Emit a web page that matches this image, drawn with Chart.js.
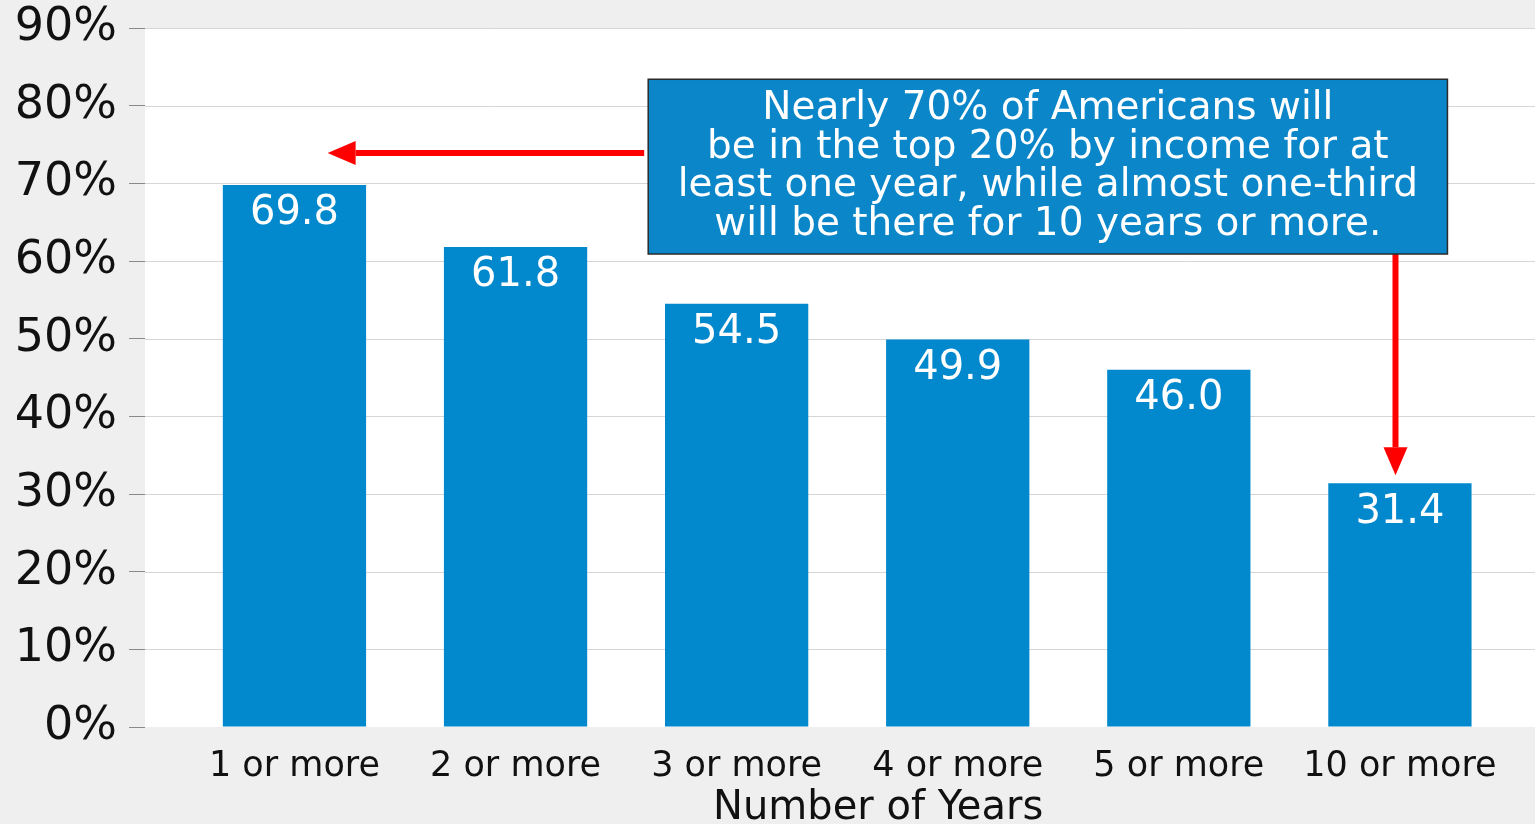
<!DOCTYPE html>
<html>
<head>
<meta charset="utf-8">
<script src="https://cdn.jsdelivr.net/npm/chart.js@4.4.1/dist/chart.umd.min.js"></script>
<style>
  html, body { margin: 0; padding: 0; background: #efefef; }
  #wrap { width: 1535px; height: 824px; position: relative; }
</style>
</head>
<body>
<div id="wrap"><canvas id="incomeChart"></canvas></div>
<script>
// --- Data ---
const yearLabels = ["1 or more", "2 or more", "3 or more", "4 or more", "5 or more", "10 or more"];
const sharePct = [69.8, 61.8, 54.5, 49.9, 46.0, 31.4];
const yTicks = [0, 10, 20, 30, 40, 50, 60, 70, 80, 90];
const xTitle = "Number of Years";
const noteLines = [
    "Nearly 70% of Americans will",
    "be in the top 20% by income for at",
    "least one year, while almost one-third",
    "will be there for 10 years or more."
];

const BLUE = "#0288cc";
const RED = "#ff0000";
const FONT = "'DejaVu Sans', sans-serif";

// --- Plot background + gridlines (plot area is white, page is grey) ---
const backdrop = {
    id: "backdrop",
    beforeDatasetsDraw(chart) {
        const { ctx, chartArea: a, scales: { y } } = chart;
        ctx.save();
        ctx.fillStyle = "#ffffff";
        ctx.fillRect(a.left, a.top, a.right - a.left, a.bottom - a.top);
        ctx.strokeStyle = "#d6d6d6";
        ctx.lineWidth = 1;
        yTicks.forEach(v => {
            if (v === 0) return;
            const py = Math.round(y.getPixelForValue(v)) + 0.5;
            ctx.beginPath();
            ctx.moveTo(a.left, py);
            ctx.lineTo(a.right, py);
            ctx.stroke();
        });
        ctx.restore();
    }
};

// --- Value labels inside bar tops ---
const valueLabels = {
    id: "valueLabels",
    afterDatasetsDraw(chart) {
        const { ctx } = chart;
        const meta = chart.getDatasetMeta(0);
        ctx.save();
        ctx.fillStyle = "#ffffff";
        ctx.font = "40px " + FONT;
        ctx.textAlign = "center";
        ctx.textBaseline = "middle";
        meta.data.forEach((bar, i) => {
            ctx.fillText(sharePct[i].toFixed(1), bar.x, bar.y + 29);
        });
        ctx.restore();
    }
};

// --- Callout box and red arrows ---
function arrow(ctx, x1, y1, x2, y2) {
    const ang = Math.atan2(y2 - y1, x2 - x1);
    const head = 28, half = 12;
    const bx = x2 - head * Math.cos(ang), by = y2 - head * Math.sin(ang);
    ctx.strokeStyle = RED;
    ctx.fillStyle = RED;
    ctx.lineWidth = 6;
    ctx.beginPath();
    ctx.moveTo(x1, y1);
    ctx.lineTo(bx, by);
    ctx.stroke();
    ctx.beginPath();
    ctx.moveTo(x2, y2);
    ctx.lineTo(bx + half * Math.sin(ang), by - half * Math.cos(ang));
    ctx.lineTo(bx - half * Math.sin(ang), by + half * Math.cos(ang));
    ctx.closePath();
    ctx.fill();
}

const callout = {
    id: "callout",
    afterDraw(chart) {
        const { ctx, scales: { x, y } } = chart;
        ctx.save();

        const bl = x.getPixelForValue(1.6), br = x.getPixelForValue(5.215);
        const bt = y.getPixelForValue(83.4), bb = y.getPixelForValue(60.9);

        // arrows first, box on top
        arrow(ctx, bl - 4, y.getPixelForValue(73.9), x.getPixelForValue(0.15), y.getPixelForValue(73.9));
        arrow(ctx, x.getPixelForValue(4.98), bb - 2, x.getPixelForValue(4.98), y.getPixelForValue(32.4));

        ctx.fillStyle = "#0a86c9";
        ctx.fillRect(bl, bt, br - bl, bb - bt);
        ctx.strokeStyle = "#2b2b2b";
        ctx.lineWidth = 1.5;
        ctx.strokeRect(bl, bt, br - bl, bb - bt);

        ctx.fillStyle = "#ffffff";
        ctx.font = "39px " + FONT;
        ctx.textAlign = "center";
        ctx.textBaseline = "middle";
        const cx = (bl + br) / 2;
        noteLines.forEach((line, i) => {
            ctx.fillText(line, cx, bt + 30 + i * 38.5);
        });

        // axis title sits a little right of the plot centre in the original
        ctx.fillStyle = "#111";
        ctx.font = "40px " + FONT;
        ctx.fillText(xTitle, x.getPixelForValue(2.64), chart.height - 15);
        ctx.restore();
    }
};

const ctx = document.getElementById("incomeChart").getContext("2d");
new Chart(ctx, {
    type: "bar",
    data: {
        datasets: [{
            data: sharePct.map((v, i) => ({ x: i, y: v })),
            backgroundColor: BLUE,
            borderWidth: 0,
            categoryPercentage: 1,
            barPercentage: 0.648
        }]
    },
    options: {
        responsive: true,
        maintainAspectRatio: false,
        animation: false,
        layout: { padding: { top: 28, right: 0, left: 0, bottom: 0 } },
        plugins: {
            legend: { display: false },
            tooltip: { enabled: false }
        },
        scales: {
            x: {
                type: "linear",
                offset: false,
                bounds: "data",
                min: -0.676,
                max: 5.611,
                afterBuildTicks: s => { s.ticks = yearLabels.map((_, i) => ({ value: i })); },
                afterFit: s => { s.height = 97; },
                grid: { display: false },
                border: { display: false },
                ticks: {
                    autoSkip: false,
                    maxRotation: 0,
                    padding: 11,
                    color: "#111",
                    font: { family: FONT, size: 35 },
                    callback: v => yearLabels[v]
                }
            },
            y: {
                min: 0,
                max: 90,
                afterBuildTicks: s => { s.ticks = yTicks.map(v => ({ value: v })); },
                afterFit: s => { s.width = 145; s.paddingTop = 0; s.paddingBottom = 0; },
                grid: {
                    drawOnChartArea: false,
                    drawTicks: true,
                    tickLength: 16,
                    tickColor: "#8a8a8a"
                },
                border: { display: false },
                ticks: {
                    padding: 12,
                    color: "#111",
                    font: { family: FONT, size: 46 },
                    callback: v => v + "%"
                }
            }
        }
    },
    plugins: [backdrop, valueLabels, callout]
});
</script>
</body>
</html>
